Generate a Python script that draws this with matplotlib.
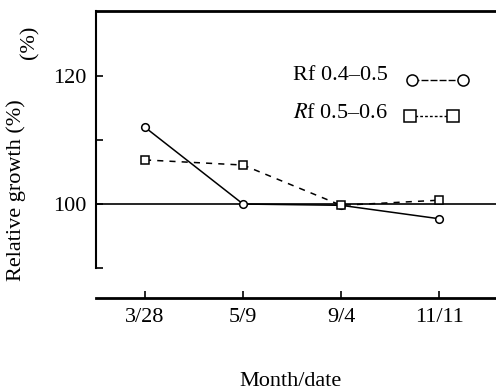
import matplotlib.pyplot as plt
from matplotlib.lines import Line2D

plt.rcParams['font.family'] = 'Liberation Serif'
plt.rcParams['mathtext.fontset'] = 'stix'

dates = ['3/28', '5/9', '9/4', '11/11']
rf_low = [112.0, 100.0, 99.8, 97.7]     # Rf 0.4-0.5
rf_high = [106.9, 106.1, 99.8, 100.6]   # Rf 0.5-0.6
yticks = [90, 100, 110, 120]
yticklabels = ['', '100', '', '120']

fig = plt.figure(figsize=(4.96, 3.9), dpi=100)
ax = fig.add_axes([96 / 496, 1 - 298 / 390, 400 / 496, 287 / 390])

x = list(range(len(dates)))
ax.axhline(100, color='black', lw=1.2)
ax.plot(x, rf_low, color='black', lw=1.1, marker='o', ms=5.5,
        mfc='white', mec='black', mew=1.1)
ax.plot(x, rf_high, color='black', lw=1.1, ls=(0, (4, 4)), marker='s', ms=5.5,
        mfc='white', mec='black', mew=1.1)

ax.set_xlim(-0.5, 3.58)
ax.set_ylim(85.3, 130.2)
ax.set_xticks(x)
ax.set_xticklabels(dates)
ax.set_yticks(yticks)
ax.set_yticklabels(yticklabels)
ax.tick_params(direction='in', length=5, width=1.2, labelsize=16, pad=7)

ax.spines['right'].set_visible(False)
ax.spines['top'].set_linewidth(2)
ax.spines['bottom'].set_linewidth(2)
ax.spines['left'].set_linewidth(1.5)
ax.spines['left'].set_bounds(90, 130.2)

fig.text(290 / 496, 1 - 381 / 390, 'Month/date', fontsize=16, ha='center', va='center')
fig.text(16 / 496, 1 - 190 / 390, 'Relative growth (%)', rotation=90,
         fontsize=16, ha='center', va='center')
fig.text(30 / 496, 1 - 42 / 390, '(%)', rotation=90,
         fontsize=16, ha='center', va='center')

# legend drawn by hand, like the original figure
fig.text(293 / 496, 1 - 76 / 390, 'Rf 0.4–0.5', fontsize=16, va='center')
fig.text(293 / 496, 1 - 113 / 390, r'$\mathit{R}$f 0.5–0.6', fontsize=16, va='center')
fig.add_artist(Line2D([412 / 496, 463 / 496], [1 - 80 / 390] * 2, transform=fig.transFigure,
                      color='black', lw=1, ls=(0, (5, 1.5)), marker='o', ms=8,
                      mfc='white', mec='black', mew=1.1))
fig.add_artist(Line2D([410 / 496, 453 / 496], [1 - 116 / 390] * 2, transform=fig.transFigure,
                      color='black', lw=1, ls=(0, (2, 1.5)), marker='s', ms=8,
                      mfc='white', mec='black', mew=1.1))

fig.savefig('out.png', dpi=100)
